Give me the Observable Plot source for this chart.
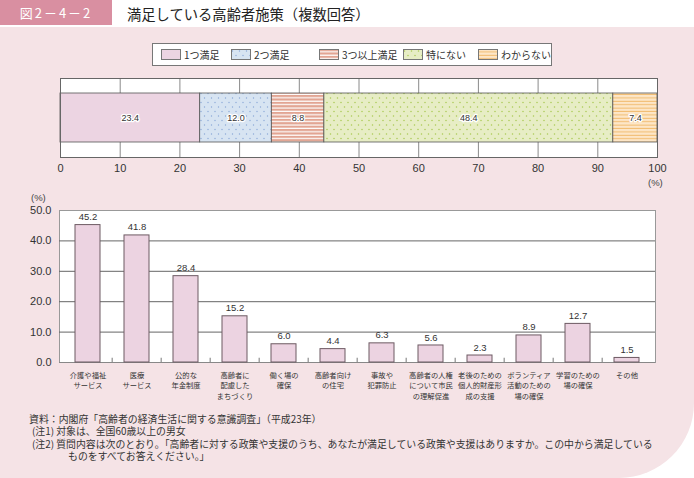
<!DOCTYPE html>
<html><head><meta charset="utf-8">
<script src="https://cdn.jsdelivr.net/npm/d3@7"></script>
<script src="https://cdn.jsdelivr.net/npm/@observablehq/plot@0.6"></script>
<style>
body{margin:0;width:694px;height:478px;position:relative;background:#fff;font-family:"Liberation Sans","Noto Sans CJK JP",sans-serif;overflow:hidden;color:#333}
.abs{position:absolute}
#panel{left:0;top:27px;width:694px;height:451px;background:#f5e3e6;border-bottom-right-radius:75px}
#hdr{left:0;top:0;width:112px;height:25px;background:#d98fa1;color:#fff;font-size:13px;line-height:25px;text-align:center;letter-spacing:2px;font-family:"Noto Sans CJK JP",sans-serif}
#title{left:127px;top:3px;font-size:14.3px;color:#222;font-family:"Noto Sans CJK JP",sans-serif}
#legend{left:152px;top:43px;width:398px;height:21px;background:#fff;border:1px solid #777;font-size:10px;font-family:"Noto Sans CJK JP",sans-serif}
.li{position:absolute;top:5px;display:flex;align-items:center;height:11px}
.li svg{margin-right:3px}
.pct{font-size:9.5px;color:#444}
#notes{left:29px;top:413px;font-size:9.9px;line-height:12.3px;color:#333;font-family:"Noto Sans CJK JP",sans-serif;white-space:nowrap}
#notes div{height:12.3px}
</style></head><body>
<svg width="0" height="0" style="position:absolute">
<defs>
<pattern id="pat1" width="6" height="6" patternUnits="userSpaceOnUse"><rect width="6" height="6" fill="#ecd4e2"/></pattern>
<pattern id="pat2" width="7" height="9" patternUnits="userSpaceOnUse"><rect width="7" height="9" fill="#d7e4f2"/><circle cx="1.5" cy="2" r="0.7" fill="#8aa8d8"/><circle cx="5" cy="6.5" r="0.7" fill="#8aa8d8"/></pattern>
<pattern id="pat3" width="6" height="3.4" patternUnits="userSpaceOnUse"><rect width="6" height="3.4" fill="#e2a593"/><rect y="2.2" width="6" height="1.2" fill="#ffffff"/></pattern>
<pattern id="pat4" width="7" height="9" patternUnits="userSpaceOnUse"><rect width="7" height="9" fill="#e7edc5"/><circle cx="1.5" cy="2" r="0.75" fill="#a9c952"/><circle cx="5" cy="6.5" r="0.75" fill="#a9c952"/></pattern>
<pattern id="pat5" width="6" height="3.4" patternUnits="userSpaceOnUse"><rect width="6" height="3.4" fill="#fde6c7"/><rect y="2.4" width="6" height="1" fill="#f1bb6e"/></pattern>
</defs></svg>
<div id="panel" class="abs"></div>
<div id="hdr" class="abs">図2－4－2</div>
<div id="title" class="abs">満足している高齢者施策（複数回答）</div>
<div id="legend" class="abs"></div>
<div id="topChart" class="abs" style="left:0;top:78px"></div>
<div class="abs pct" style="left:648px;top:177px">(%)</div>
<div class="abs pct" style="left:31px;top:192px">(%)</div>
<div id="bottomChart" class="abs" style="left:0;top:195px"></div>
<div id="notes" class="abs">
<div>資料：内閣府「高齢者の経済生活に関する意識調査」（平成23年）</div>
<div style="margin-left:3px">(注1) 対象は、全国60歳以上の男女</div>
<div style="margin-left:3px">(注2) 質問内容は次のとおり。「高齢者に対する政策や支援のうち、あなたが満足している政策や支援はありますか。この中から満足している</div>
<div style="margin-left:39px">ものをすべてお答えください。」</div>
</div>
<script>
// ---- Data ----
const stackCategories = ["1つ満足", "2つ満足", "3つ以上満足", "特にない", "わからない"];
const stackValues = [23.4, 12.0, 8.8, 48.4, 7.4];
const stackPatterns = ["url(#pat1)", "url(#pat2)", "url(#pat3)", "url(#pat4)", "url(#pat5)"];
const stackTicks = [0, 10, 20, 30, 40, 50, 60, 70, 80, 90, 100];

const policyCategories = ["介護や福祉サービス", "医療サービス", "公的な年金制度", "高齢者に配慮したまちづくり", "働く場の確保", "高齢者向けの住宅", "事故や犯罪防止", "高齢者の人権について市民の理解促進", "老後のための個人的財産形成の支援", "ボランティア活動のための場の確保", "学習のための場の確保", "その他"];
const policyLabels = ["介護や福祉\nサービス", "医療\nサービス", "公的な\n年金制度", "高齢者に\n配慮した\nまちづくり", "働く場の\n確保", "高齢者向け\nの住宅", "事故や\n犯罪防止", "高齢者の人権\nについて市民\nの理解促進", "老後のための\n個人的財産形\n成の支援", "ボランティア\n活動のための\n場の確保", "学習のための\n場の確保", "その他"];
const policyValues = [45.2, 41.8, 28.4, 15.2, 6.0, 4.4, 6.3, 5.6, 2.3, 8.9, 12.7, 1.5];
const policyTicks = [0, 10, 20, 30, 40, 50];

const stackData = stackCategories.map((c, i) => ({category: c, value: stackValues[i]}));
const policyData = policyCategories.map((c, i) => ({category: c, label: policyLabels[i], value: policyValues[i]}));

// ---- Legend ----
const legendX = [8, 78, 166, 250, 325];
const legendEl = document.getElementById("legend");
stackCategories.forEach((c, i) => {
  const d = document.createElement("div");
  d.className = "li";
  d.style.left = legendX[i] + "px";
  d.innerHTML = `<svg width="20" height="11"><rect x="0.5" y="0.5" width="19" height="10" fill="${stackPatterns[i]}" stroke="#777"/></svg><span>${c}</span>`;
  legendEl.appendChild(d);
});

// ---- Top stacked bar ----
const topPlot = Plot.plot({
  width: 694, height: 100,
  marginLeft: 60, marginRight: 37, marginTop: 0, marginBottom: 21,
  style: {background: "transparent", fontFamily: "Liberation Sans, Noto Sans CJK JP, sans-serif"},
  x: {domain: [0, 100], label: null},
  y: {domain: ["all"], padding: 0.234, axis: null, label: null},
  color: {type: "ordinal", domain: stackCategories, range: stackPatterns},
  marks: [
    Plot.frame({fill: "white"}),
    Plot.ruleX(stackTicks.slice(1, -1), {stroke: "#8a8a8a"}),
    Plot.barX(stackData, Plot.stackX({x: "value", y: () => "all", fill: "category", stroke: "#555", strokeWidth: 0.8})),
    Plot.text(stackData, Plot.stackX({x: "value", y: () => "all", text: d => d.value.toFixed(1), fontSize: 9, fill: "#333", stroke: "white", strokeWidth: 2.5})),
    Plot.frame({stroke: "#666"}),
    Plot.axisX({ticks: stackTicks, tickSize: 0, tickPadding: 7, fontSize: 11, tickFormat: d => d, fill: "#333", label: null})
  ]
});
document.getElementById("topChart").appendChild(topPlot);

// ---- Bottom bar chart ----
const plotW = 694 - 59 - 39;
const step = plotW / policyCategories.length;
const bottomPlot = Plot.plot({
  width: 694, height: 215,
  marginLeft: 59, marginRight: 39, marginTop: 15, marginBottom: 48,
  style: {background: "transparent", fontFamily: "Liberation Sans, Noto Sans CJK JP, sans-serif"},
  x: {domain: policyCategories, paddingInner: 0.5, paddingOuter: 0.25, axis: null, label: null},
  y: {domain: [0, 50], label: null},
  marks: [
    Plot.frame({fill: "white", stroke: "#999"}),
    Plot.ruleY(policyTicks.slice(1, -1), {stroke: "#666"}),
    Plot.ruleY([0], {stroke: "#888"}),
    Plot.ruleX(policyCategories.slice(1), {x: d => d, y1: 0, y2: 1.4, dx: -step / 2, stroke: "#777"}),
    Plot.barY(policyData, {x: "category", y: "value", fill: "#ecd3e1", stroke: "#6d5a63", strokeWidth: 1}),
    Plot.text(policyData, {x: "category", y: "value", text: d => d.value.toFixed(1), dy: -8, fontSize: 9.5, fill: "#333"}),
    Plot.text(policyData, {x: "category", y: 0, text: "label", lineAnchor: "top", dy: 8, fontSize: 7.3, lineHeight: 1.42, fill: "#333", fontFamily: "Noto Sans CJK JP"}),
    Plot.axisY({ticks: policyTicks, tickSize: 0, tickPadding: 8, fontSize: 11, tickFormat: d => d.toFixed(1), fill: "#333", label: null})
  ]
});
document.getElementById("bottomChart").appendChild(bottomPlot);
</script>
</body></html>
